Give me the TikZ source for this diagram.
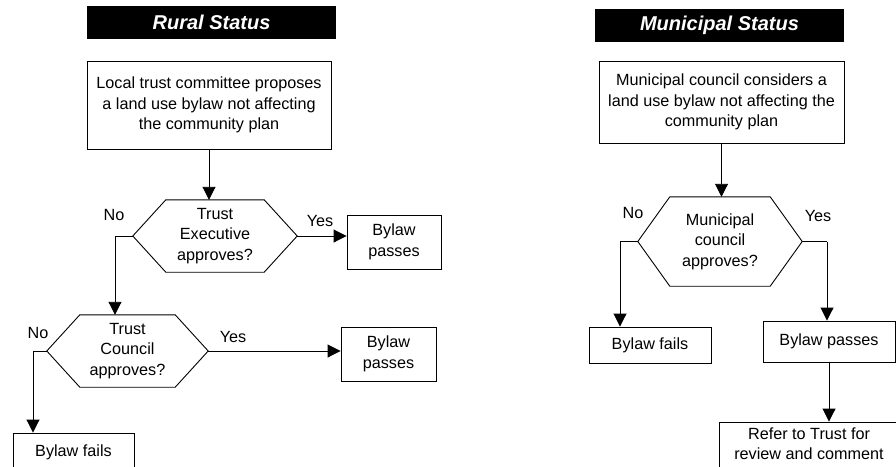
\documentclass[tikz,border=0pt]{standalone}
\usepackage{fontspec}
\setmainfont{Liberation Sans}
\usetikzlibrary{arrows.meta,calc}
\newcommand{\hexnode}[7]{%
  \node[hexbox, minimum width=#4pt, minimum height=#5pt] (#1) at (#2,#3) {#7};
  \draw[hexline] (#1.west) -- ([xshift=#6pt]#1.north west) -- ([xshift=-#6pt]#1.north east) -- (#1.east) -- ([xshift=-#6pt]#1.south east) -- ([xshift=#6pt]#1.south west) -- cycle;}
\begin{document}
\begin{tikzpicture}[x=1pt,y=-1pt,
  txt/.style={font=\fontsize{16.2}{20.5}\selectfont, align=center, inner sep=0pt},
  box/.style={txt, draw=black, line width=0.9pt, rectangle},
  titlebox/.style={fill=black, text=white, inner sep=0pt, font=\fontsize{20}{24}\selectfont\bfseries\itshape},
  hexbox/.style={txt, rectangle},
  hexline/.style={draw=black, line width=0.9pt},
  lbl/.style={font=\fontsize{16.2}{20}\selectfont, inner sep=0pt},
  conn/.style={draw=black, line width=0.9pt},
  arr/.style={conn, -{Triangle[length=13pt,width=13pt]}}]
\useasboundingbox (0,0) rectangle (896,466);
% ---------- Rural ----------
\node[titlebox, minimum width=249pt, minimum height=33pt] (rtitle) at (211.5,22.5) {Rural Status};
\node[box, minimum width=244pt, minimum height=88pt] (rstart) at (209,105)
  {Local trust committee proposes\\a land use bylaw not affecting\\the community plan};
\hexnode{rd1}{215}{236}{164}{72}{33}{Trust\\Executive\\approves?}
\node[box, minimum width=94pt, minimum height=54pt] (rp1) at (394,242) {Bylaw\\passes};
\hexnode{rd2}{127.5}{351}{161}{72}{33}{Trust\\Council\\approves?}
\node[box, minimum width=95pt, minimum height=54pt] (rp2) at (388.5,354) {Bylaw\\passes};
\node[box, minimum width=121pt, minimum height=38pt] (rf) at (73.5,452) {Bylaw fails};
\node[lbl] (rno1) at (114,215) {No};
\node[lbl] (ryes1) at (320,221) {Yes};
\node[lbl] (rno2) at (38,333) {No};
\node[lbl] (ryes2) at (233,337) {Yes};
\coordinate (rk1) at (115,236);
\coordinate (rk2) at (33,351);
\draw[arr] (rstart.south) -- (rstart.south |- rd1.north);
\draw[arr] (rd1.east) -- (rd1.east -| rp1.west);
\draw[conn] (rd1.west) -- (rk1);
\draw[arr] (rk1) -- (rk1 |- rd2.north);
\draw[arr] (rd2.east) -- (rd2.east -| rp2.west);
\draw[conn] (rd2.west) -- (rk2);
\draw[arr] (rk2) -- (rk2 |- rf.north);
% ---------- Municipal ----------
\node[titlebox, minimum width=249pt, minimum height=33pt] (mtitle) at (719.5,25.5) {Municipal Status};
\node[box, minimum width=245pt, minimum height=82pt] (mstart) at (721.5,102)
  {Municipal council considers a\\land use bylaw not affecting the\\community plan};
\hexnode{md}{720}{241.5}{164}{89}{32}{Municipal\\council\\approves?}
\node[box, minimum width=122pt, minimum height=36pt] (mf) at (650,345) {Bylaw fails};
\node[box, minimum width=132pt, minimum height=41pt] (mp) at (829,341.5) {Bylaw passes};
\node[box, minimum width=180pt, minimum height=56pt] (mref) at (809,450) {};
\node[txt] (mreft) at (809,443.5) {Refer to Trust for\\review and comment};
\node[lbl] (mno) at (633,213) {No};
\node[lbl] (myes) at (818,216) {Yes};
\coordinate (mk1) at (620,241.5);
\coordinate (mk2) at (827,241.5);
\draw[arr] (mstart.south) -- (mstart.south |- md.north);
\draw[conn] (md.west) -- (mk1);
\draw[arr] (mk1) -- (mk1 |- mf.north);
\draw[conn] (md.east) -- (mk2);
\draw[arr] (mk2) -- (mk2 |- mp.north);
\draw[arr] (mp.south) -- (mp.south |- mref.north);
\end{tikzpicture}
\end{document}
